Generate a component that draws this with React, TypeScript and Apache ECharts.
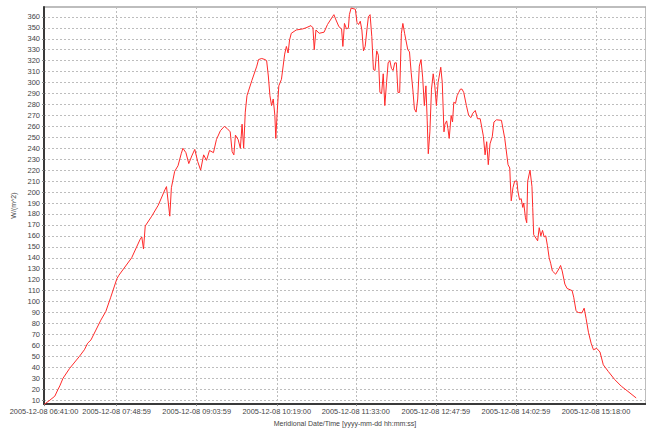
import React, { useEffect, useRef } from "react";
import * as echarts from "echarts";

// x: minutes after 2005-12-08 06:41:00, y: irradiance W/(m^2)
const minutes = [
  0, 5.5, 10.1, 13.2, 14.8, 17.8, 24.0, 33.2, 37.8, 40.9, 44.0, 48.6, 53.2, 57.9, 62.5, 68.3,
  70.1, 82.1, 90.1, 91.6, 93.2, 94.8, 100.9, 107.0, 113.2, 114.7, 117.8, 119.3, 122.4, 125.5, 128.5, 130.1,
  132.9, 135.6, 138.4, 141.2, 143.9, 146.7, 149.5, 152.2, 155.0, 158.7, 161.5, 165.2, 168.9, 171.6, 174.4, 176.2,
  177.8, 179.3, 181.8, 183.9, 185.5, 187.0, 188.5, 190.1, 194.7, 199.3, 200.9, 203.9, 207.0, 208.5, 210.1, 211.6,
  213.1, 214.7, 216.2, 217.1, 218.4, 219.9, 222.4, 225.4, 227.0, 228.6, 230.0, 231.6, 236.2, 242.4, 245.4, 250.0,
  251.9, 253.1, 254.7, 257.7, 262.3, 265.5, 270.1, 271.5, 273.1, 276.2, 278.7, 279.9, 281.4, 283.3, 285.1, 286.0,
  287.6, 291.6, 293.1, 294.6, 296.2, 297.7, 299.2, 300.8, 302.4, 303.8, 305.4, 307.0, 308.5, 310.0, 311.6, 313.1,
  314.6, 316.2, 317.7, 319.2, 320.8, 322.3, 323.9, 325.4, 326.9, 328.5, 330.0, 331.5, 333.1, 334.7, 336.1, 337.7,
  340.7, 342.3, 343.9, 345.4, 346.9, 348.5, 350.0, 351.5, 353.1, 354.6, 356.2, 357.7, 358.9, 359.9, 361.4, 362.9,
  364.5, 366.0, 367.5, 369.1, 371.6, 373.0, 374.6, 375.5, 377.1, 378.3, 379.5, 381.3, 382.6, 383.8, 385.4, 386.9,
  388.4, 390.0, 391.5, 393.1, 395.6, 397.7, 399.8, 401.6, 403.9, 406.0, 408.5, 411.5, 413.1, 414.6, 416.1, 417.7,
  419.8, 421.4, 423.8, 428.4, 431.5, 434.6, 436.2, 436.7, 437.6, 439.2, 440.8, 442.9, 443.8, 445.4, 446.9, 448.4,
  449.3, 450.9, 452.1, 453.0, 455.2, 457.0, 457.7, 458.6, 460.7, 462.3, 463.8, 465.3, 466.9, 468.4, 469.9, 471.5,
  473.1, 474.5, 476.1, 479.2, 482.3, 483.8, 485.3, 487.8, 489.9, 494.6, 496.1, 498.2, 499.2, 500.7, 503.8, 505.9,
  507.7, 509.9, 512.4, 514.6, 517.6, 520.7, 523.8, 528.4, 534.5, 540.7, 546.9, 554.6,
];

const irradiance = [
  6, 10, 13.6, 20, 23, 30, 39, 50, 56, 62, 65, 74, 83, 91, 104, 121,
  124, 140, 157, 159, 148, 169, 178, 188, 202, 205, 178, 204, 219, 224, 235, 240,
  236, 226, 233, 239, 228, 220, 234, 229, 238, 236, 248, 256, 260, 258, 255, 237,
  234, 252, 248, 240, 262, 240, 273, 288, 302, 315, 321, 322, 321, 320, 306, 288,
  279, 285, 270, 249, 273, 297, 303, 326, 333, 327, 339, 345, 348, 349, 350, 352,
  350, 330, 348, 345, 346, 353, 360, 362, 358, 351, 349, 333, 354, 349, 350, 362,
  368, 367, 355, 353, 356, 348, 329, 333, 348, 360, 362, 342, 312, 311, 329, 325,
  291, 290, 308, 279, 300, 318, 320, 313, 311, 318, 318, 291, 291, 345, 354, 345,
  330, 328, 309, 294, 276, 273, 285, 315, 321, 305, 279, 297, 265, 235, 255, 294,
  308, 297, 279, 300, 314, 300, 255, 262, 265, 258, 249, 270, 264, 282, 281, 288,
  291, 294, 294, 291, 279, 270, 268, 272, 274.5, 267, 267, 251, 234, 246, 225, 244,
  250.5, 264, 266, 265.5, 249, 225, 222, 210, 192, 204, 210, 210, 201, 193, 194, 186,
  190, 176.5, 172, 210, 220, 205, 186, 161, 158, 155.5, 167.5, 160, 165, 159, 160, 151,
  140, 135, 128, 125, 130, 133, 128, 116, 112, 110, 104, 92, 90.6, 90, 89.7, 94,
  84.5, 72, 62, 56, 57.3, 54, 42.3, 36.3, 28.8, 22.7, 18, 12,
];

const xTickLabels = [
  "2005-12-08 06:41:00",
  "2005-12-08 07:48:59",
  "2005-12-08 09:03:59",
  "2005-12-08 10:19:00",
  "2005-12-08 11:33:00",
  "2005-12-08 12:47:59",
  "2005-12-08 14:02:59",
  "2005-12-08 15:18:00",
];

const yTickValues = [
  10, 20, 30, 40, 50, 60, 70, 80, 90, 100, 110, 120, 130, 140, 150, 160, 170, 180,
  190, 200, 210, 220, 230, 240, 250, 260, 270, 280, 290, 300, 310, 320, 330, 340, 350, 360,
];

const xTitle = "Meridional Date/Time [yyyy-mm-dd hh:mm:ss]";
const yTitle = "W/(m^2)";

function secsOfDay(label: string) {
  const t = label.split(" ")[1].split(":").map(Number);
  return t[0] * 3600 + t[1] * 60 + t[2];
}
const baseSecs = secsOfDay(xTickLabels[0]);
const xTickMinutes = xTickLabels.map((l) => (secsOfDay(l) - baseSecs) / 60);

function labelFor(v: number) {
  const idx = xTickMinutes.findIndex((m) => Math.abs(m - v) < 0.01);
  return idx >= 0 ? xTickLabels[idx] : "";
}

export default function App() {
  const ref = useRef<HTMLDivElement>(null);
  useEffect(() => {
    document.body.style.margin = "0";
    const chart = echarts.init(ref.current!, null, { renderer: "svg" });
    const font = "'Liberation Sans', Arial, sans-serif";
    chart.setOption({
      animation: false,
      backgroundColor: "#ffffff",
      grid: {
        left: 44,
        top: 7,
        right: -9,
        bottom: 23.5,
        show: true,
        borderColor: "#a8a8a8",
        borderWidth: 1.5,
        backgroundColor: "#ffffff",
      },
      xAxis: {
        type: "value",
        min: 0,
        max: 563.8,
        name: xTitle,
        nameLocation: "middle",
        nameGap: 15.5,
        nameTextStyle: { fontSize: 7, color: "#444", fontFamily: font },
        axisLine: { show: true, lineStyle: { color: "#3a3a3a", width: 2 } },
        axisTick: { show: true, length: 2, customValues: xTickMinutes, lineStyle: { color: "#888" } },
        axisLabel: {
          customValues: xTickMinutes,
          formatter: (v: number) => labelFor(v),
          fontSize: 7.4,
          color: "#444",
          fontFamily: font,
          margin: 4,
        },
        splitLine: { show: true, lineStyle: { color: "#bdbdbd", type: [2, 2], width: 1 } },
      },
      yAxis: {
        type: "value",
        min: 6.4,
        max: 369,
        name: yTitle,
        nameLocation: "middle",
        nameRotate: 90,
        nameGap: 16,
        nameTextStyle: { fontSize: 7, color: "#444", fontFamily: font },
        axisLine: { show: true, lineStyle: { color: "#3a3a3a", width: 2 } },
        axisTick: { show: true, length: 2, customValues: yTickValues, lineStyle: { color: "#888" } },
        axisLabel: {
          customValues: yTickValues,
          fontSize: 7.5,
          color: "#444",
          fontFamily: font,
          margin: 4,
        },
        splitLine: { show: true, lineStyle: { color: "#bdbdbd", type: [2, 2], width: 1 } },
      },
      series: [
        {
          type: "line",
          data: minutes.map((m, i) => [m, irradiance[i]]),
          showSymbol: false,
          symbol: "none",
          lineStyle: { color: "#ff2a2a", width: 1 },
        },
      ],
    });
    return () => chart.dispose();
  }, []);
  return (
    <div
      ref={ref}
      style={{ position: "fixed", left: 0, top: 0, width: 646, height: 432 }}
    />
  );
}
